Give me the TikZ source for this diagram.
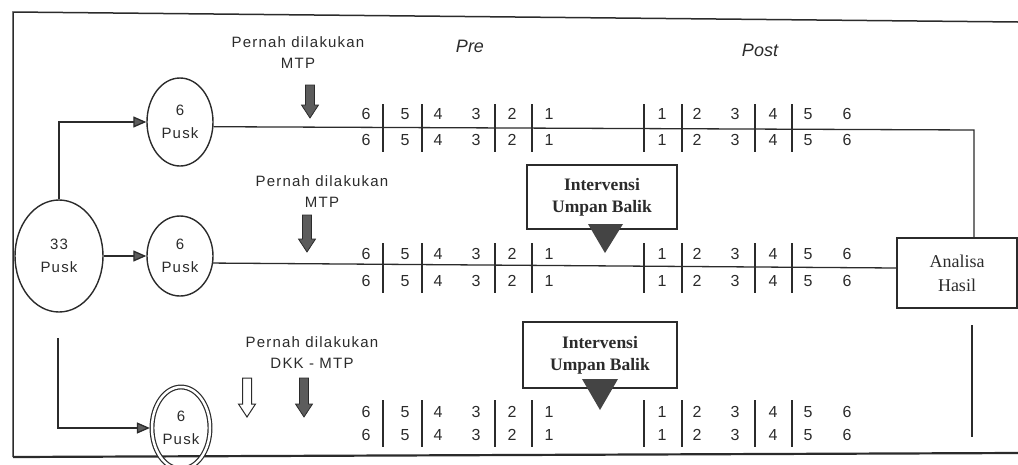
\documentclass[tikz,border=0pt]{standalone}
\usepackage{fontspec}
\setmainfont{Liberation Sans}
\newfontfamily\spacedsans[LetterSpace=8]{Liberation Sans}
\newfontfamily\serifface{Liberation Serif}
\usetikzlibrary{shapes.geometric,arrows.meta}

\definecolor{ink}{HTML}{2B2B2B}
\definecolor{arrowgray}{HTML}{5C5C5C}
\definecolor{tipgray}{HTML}{444444}

\tikzset{
  ink line/.style={draw=ink, line width=1.3pt},
  conn/.style={ink line, -{Triangle[length=13pt,width=11pt,fill=arrowgray]}},
  pusk/.style={ellipse, draw=ink, line width=1.4pt, inner sep=0pt, align=center,
    font=\spacedsans\fontsize{15}{23}\selectfont, text=ink},
  digit/.style={font=\fontsize{16}{16}\selectfont, text=ink, inner sep=0pt},
  bar/.style={draw=ink, line width=1.4pt},
  note/.style={font=\spacedsans\fontsize{15}{21}\selectfont, align=center, text=ink},
  phase/.style={font=\itshape\fontsize{18}{18}\selectfont, text=ink},
  ivbox/.style={draw=ink, line width=1.4pt, minimum width=150pt, minimum height=64pt,
    align=center, font=\serifface\bfseries\fontsize{17.5}{22}\selectfont, text=ink},
  pics/blockarrow/.style={code={
    \path[pic actions] (-4.5,0) -- (4.5,0) -- (4.5,#1-13) -- (8.5,#1-13) -- (0,#1)
      -- (-8.5,#1-13) -- (-4.5,#1-13) -- cycle;}},
}

% two rows of scores (pre 6..1, post 1..6) with their separators
\newcommand\scorerows[5]{%
  \foreach \x/\d in {366/6,405/5,438/4,476/3,512/2,549/1}{
    \node[digit] (#1-pre-\d-u) at (\x,#2) {\d};
    \node[digit] (#1-pre-\d-l) at (\x,#3) {\d};}
  \foreach \x/\d in {662/1,697/2,735/3,773/4,808/5,847/6}{
    \node[digit] (#1-post-\d-u) at (\x,#2) {\d};
    \node[digit] (#1-post-\d-l) at (\x,#3) {\d};}
  \foreach \x in {383,422,495,532,644,682,755,792}{
    \draw[bar] (\x,#4) -- (\x,#5);}
}

\begin{document}
\begin{tikzpicture}[x=1pt,y=-1pt]
\useasboundingbox (0,0) rectangle (1018,464);

% outer frame (open on the right)
\draw[ink line, line width=1.5pt] (1018,22) -- (13,12) -- (13,457);
\draw[ink line, line width=2.2pt] (13,457) -- (1018,453);

% groups of health centres
\node[pusk, minimum width=88pt, minimum height=112pt] (e33) at (59,256) {33\\Pusk};
\node[pusk, minimum width=66pt, minimum height=88pt] (e1) at (180,122) {6\\Pusk};
\node[pusk, minimum width=66pt, minimum height=80pt] (e2) at (180,256) {6\\Pusk};
\node[pusk, line width=1.2pt, double=white, double distance=2.5pt,
      minimum width=58pt, minimum height=82pt] (e3) at (181,428) {6\\Pusk};

% result box
\node[draw=ink, line width=1.4pt, minimum width=120pt, minimum height=70pt, align=center,
      font=\serifface\fontsize{18}{24}\selectfont, text=ink] (hasil) at (957,273) {Analisa\\Hasil};

% feedback intervention boxes
\node[ivbox] (iv1) at (602,197) {Intervensi\\Umpan Balik};
\node[ivbox, minimum width=154pt, minimum height=66pt] (iv2) at (600,355) {Intervensi\\Umpan Balik};
\fill[tipgray] (588,224) -- (623,224) -- (605,253) -- cycle;
\fill[tipgray] (582,379) -- (618,379) -- (600,410) -- cycle;

% connectors from the 33 centres
\coordinate (lowstart) at (58,338);
\draw[conn] (e33.north) |- (e1.west);
\draw[conn] (e33) -- (e2);
\draw[conn, shorten >=1.5pt] (lowstart) |- (e3.west);

% time lines
\coordinate (r1end) at (974,130);
\draw[ink line] (e1.-8) -- (r1end) -- (r1end |- hasil.north);
\draw[ink line] (e2.-12) -- ([yshift=5pt]hasil.west);
\coordinate (r3top) at (972,325);
\coordinate (r3bot) at (972,437);
\draw[ink line] (r3top) -- (r3bot);

% headings
\node[phase] (pre) at (470,46) {Pre};
\node[phase] (post) at (760,50) {Post};

% prior-treatment notes and markers
\node[note] (lbl1) at (298,53) {Pernah dilakukan\\MTP};
\node[note] (lbl2) at (322,192) {Pernah dilakukan\\MTP};
\node[note] (lbl3) at (312,353) {Pernah dilakukan\\DKK - MTP};
\pic[draw=ink, fill=arrowgray, line width=0.8pt] (mtp1) at (310,85) {blockarrow=33};
\pic[draw=ink, fill=arrowgray, line width=0.8pt] (mtp2) at (307,215) {blockarrow=37};
\pic[draw=ink, fill=arrowgray, line width=0.8pt] (mtp3) at (304,378) {blockarrow=39};
\pic[draw=ink, fill=white, line width=1pt] (dkk3) at (247,378) {blockarrow=39};

% score rows
\scorerows{a}{114}{140}{104}{152}
\scorerows{b}{254}{281}{243}{293}
\scorerows{c}{412}{435}{400}{447}
\end{tikzpicture}
\end{document}
